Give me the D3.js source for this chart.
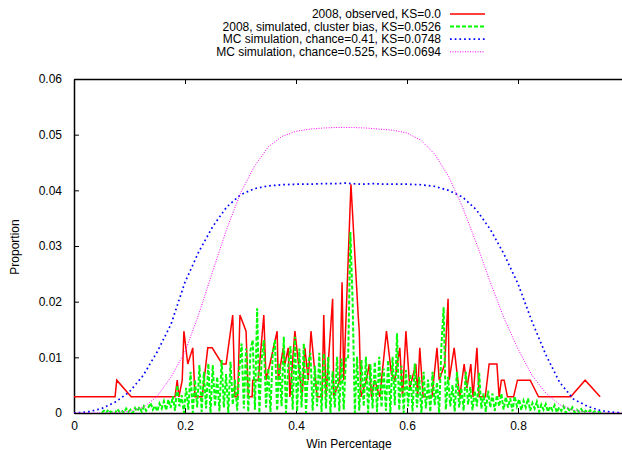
<!DOCTYPE html>
<html>
<head>
<meta charset="utf-8">
<script src="https://cdn.jsdelivr.net/npm/d3@7"></script>
<style>
  body { margin: 0; background: #fff; }
  svg { display: block; font-family: "Liberation Sans", Arial, sans-serif; }
  .tick-label { font-size: 12px; fill: #000; }
</style>
</head>
<body>
<svg id="chart" width="622" height="450"></svg>
<script>
// tick values
var xTicks = [0, 0.2, 0.4, 0.6, 0.8];
var yTicks = [0, 0.01, 0.02, 0.03, 0.04, 0.05, 0.06];

// series names
var seriesNames = [
  "2008, observed, KS=0.0",
  "2008, simulated, cluster bias, KS=0.0526",
  "MC simulation, chance=0.41, KS=0.0748",
  "MC simulation, chance=0.525, KS=0.0694"
];

// 2008 observed  [win pct, proportion]
var observed = [
  [0.000,.0029],[0.074,.0029],[0.077,.0059],[0.103,.0029],[0.182,.0029],[0.186,.0059],
  [0.189,.0029],[0.195,.0059],[0.198,.0147],[0.205,.0088],[0.214,.0117],[0.218,.0029],
  [0.231,.0029],[0.241,.0117],[0.249,.0117],[0.267,.0088],[0.274,.0088],[0.286,.0176],
  [0.290,.0029],[0.295,.0029],[0.299,.0176],[0.310,.0147],[0.314,.0029],[0.321,.0029],
  [0.322,.0059],[0.332,.0059],[0.342,.0176],[0.346,.0059],[0.353,.0088],[0.366,.0147],
  [0.368,.0059],[0.377,.0117],[0.380,.0088],[0.386,.0117],[0.389,.0029],[0.398,.0147],
  [0.411,.0029],[0.416,.0117],[0.422,.0059],[0.427,.0147],[0.438,.0029],[0.447,.0029],
  [0.450,.0176],[0.454,.0029],[0.466,.0205],[0.468,.0029],[0.479,.0059],[0.483,.0235],
  [0.486,.0059],[0.499,.0411],[0.512,.0176],[0.514,.0147],[0.517,.0029],[0.527,.0059],
  [0.532,.0088],[0.536,.0029],[0.542,.0059],[0.551,.0029],[0.563,.0147],[0.572,.0070],
  [0.578,.0059],[0.587,.0117],[0.592,.0029],[0.598,.0147],[0.605,.0045],[0.616,.0088],
  [0.619,.0029],[0.623,.0117],[0.629,.0029],[0.645,.0029],[0.654,.0117],[0.658,.0059],
  [0.668,.0088],[0.674,.0205],[0.676,.0059],[0.685,.0117],[0.695,.0029],[0.703,.0088],
  [0.708,.0045],[0.715,.0088],[0.719,.0029],[0.726,.0117],[0.730,.0029],[0.741,.0029],
  [0.748,.0088],[0.762,.0088],[0.766,.0029],[0.770,.0059],[0.775,.0059],[0.781,.0029],
  [0.792,.0029],[0.799,.0059],[0.822,.0059],[0.837,.0029],[0.895,.0029],[0.921,.0059],
  [0.948,.0029]
];

// 2008 simulated with cluster bias
var simulated = [
  [0.050,0],[0.054,.0004],[0.058,0],[0.062,.0006],[0.066,.0001],[0.070,.0003],[0.074,0],
  [0.078,.0007],[0.082,.0002],[0.086,.0005],[0.090,0],[0.094,.0008],[0.098,.0002],[0.102,.0006],
  [0.106,0],[0.110,.0009],[0.114,.0003],[0.118,.0011],[0.122,.0002],[0.126,.0012],[0.130,.0004],
  [0.134,.0010],[0.138,.0018],[0.142,.0006],[0.146,.0013],[0.150,.0003],[0.154,.0017],[0.158,.0008],
  [0.162,.0021],[0.166,.0005],[0.170,.0024],[0.174,.0009],[0.178,.0030],[0.182,.0004],[0.186,.0050],
  [0.190,.0012],[0.194,.0032],[0.198,0],[0.202,.0045],[0.206,.0006],[0.210,.0074],[0.214,0],
  [0.218,.0060],[0.222,.0010],[0.226,.0086],[0.230,.0002],[0.234,.0074],[0.238,.0008],[0.242,.0089],
  [0.246,0],[0.250,.0086],[0.254,.0012],[0.258,.0065],[0.262,.0003],[0.266,.0095],[0.270,.0010],
  [0.274,.0070],[0.278,0],[0.282,.0092],[0.286,.0015],[0.290,.0060],[0.294,.0004],[0.298,.0080],
  [0.302,.0125],[0.306,.0008],[0.310,.0116],[0.314,.0002],[0.318,.0113],[0.322,.0131],[0.326,.0006],
  [0.330,.0188],[0.334,0],[0.338,.0095],[0.342,.0131],[0.346,.0010],[0.350,.0080],[0.354,.0002],
  [0.358,.0105],[0.362,.0131],[0.366,.0004],[0.370,.0090],[0.374,.0012],[0.378,.0137],[0.382,0],
  [0.386,.0085],[0.390,.0120],[0.394,.0006],[0.398,.0137],[0.402,.0003],[0.406,.0116],[0.410,.0010],
  [0.414,.0125],[0.418,0],[0.422,.0090],[0.426,.0108],[0.430,.0004],[0.434,.0085],[0.438,.0012],
  [0.442,.0108],[0.446,.0002],[0.450,.0107],[0.454,.0008],[0.458,.0101],[0.462,0],[0.466,.0075],
  [0.470,.0010],[0.474,.0101],[0.478,.0003],[0.482,.0098],[0.486,.0006],[0.490,.0101],[0.494,.0100],
  [0.498,.0325],[0.502,.0200],[0.506,0],[0.510,.0101],[0.514,.0004],[0.518,.0095],[0.522,.0012],
  [0.526,.0101],[0.530,0],[0.534,.0088],[0.538,.0008],[0.542,.0092],[0.546,.0002],[0.550,.0101],
  [0.554,.0010],[0.558,.0080],[0.562,.0004],[0.566,.0095],[0.570,0],[0.574,.0101],[0.578,.0014],
  [0.582,.0143],[0.586,.0005],[0.590,.0085],[0.594,0],[0.598,.0077],[0.602,.0012],[0.606,.0070],
  [0.610,.0003],[0.614,.0089],[0.618,.0010],[0.622,.0065],[0.626,0],[0.630,.0074],[0.634,.0008],
  [0.638,.0060],[0.642,.0002],[0.646,.0074],[0.650,.0014],[0.654,.0055],[0.658,0],[0.662,.0120],
  [0.666,.0190],[0.670,.0006],[0.674,.0065],[0.678,.0012],[0.682,.0050],[0.686,.0003],[0.690,.0074],
  [0.694,.0010],[0.698,.0045],[0.702,.0004],[0.706,.0074],[0.710,.0015],[0.714,.0047],[0.718,.0005],
  [0.722,.0040],[0.726,.0012],[0.730,.0072],[0.734,.0008],[0.738,.0035],[0.742,.0002],[0.746,.0040],
  [0.750,.0010],[0.754,.0035],[0.758,.0004],[0.762,.0032],[0.766,.0012],[0.770,.0035],[0.774,.0006],
  [0.778,.0029],[0.782,.0010],[0.786,.0026],[0.790,.0003],[0.794,.0030],[0.798,.0012],[0.802,.0025],
  [0.806,.0005],[0.810,.0022],[0.814,.0010],[0.818,.0026],[0.822,.0004],[0.826,.0018],[0.830,.0008],
  [0.834,.0020],[0.838,.0002],[0.842,.0015],[0.846,.0006],[0.850,.0016],[0.854,.0002],[0.858,.0012],
  [0.862,.0005],[0.866,.0014],[0.870,.0001],[0.874,.0010],[0.878,.0004],[0.882,.0012],[0.886,0],
  [0.890,.0008],[0.894,.0003],[0.898,.0010],[0.902,.0001],[0.906,.0006],[0.910,.0002],[0.914,.0007],
  [0.918,0],[0.922,.0004],[0.926,.0001],[0.930,.0005],[0.934,0],[0.938,.0003],[0.942,.0001],
  [0.946,.0002],[0.950,0]
];

// MC simulation, chance=0.41
var mc41 = [
  [0.000,0],[0.025,.0002],[0.050,.0008],[0.075,.0020],[0.100,.0038],[0.125,.0068],[0.150,.0110],
  [0.175,.0160],[0.200,.0235],[0.225,.0290],[0.250,.0335],[0.275,.0370],[0.300,.0392],[0.325,.0403],
  [0.350,.0408],[0.375,.0410],[0.400,.0411],[0.425,.0411],[0.450,.0412],[0.475,.0412],[0.490,.0413],
  [0.500,.0412],[0.520,.0411],[0.540,.0412],[0.560,.0411],[0.580,.0411],[0.600,.0411],[0.625,.0410],
  [0.650,.0407],[0.675,.0400],[0.700,.0388],[0.725,.0365],[0.750,.0330],[0.775,.0285],[0.800,.0232],
  [0.825,.0165],[0.850,.0105],[0.875,.0055],[0.900,.0025],[0.925,.0012],[0.950,.0004],[0.975,.0001],
  [1.000,0]
];

// MC simulation, chance=0.525
var mc525 = [
  [0.000,0],[0.050,0],[0.075,.0001],[0.100,.0003],[0.125,.0010],[0.150,.0030],[0.175,.0065],
  [0.200,.0110],[0.225,.0178],[0.250,.0255],[0.275,.0330],[0.300,.0395],[0.325,.0443],[0.350,.0478],
  [0.375,.0497],[0.400,.0506],[0.425,.0510],[0.450,.0512],[0.475,.0513],[0.500,.0513],[0.525,.0512],
  [0.550,.0510],[0.575,.0508],[0.600,.0503],[0.625,.0490],[0.650,.0465],[0.675,.0425],[0.700,.0370],
  [0.725,.0305],[0.750,.0235],[0.775,.0170],[0.800,.0115],[0.825,.0068],[0.850,.0036],[0.875,.0015],
  [0.900,.0005],[0.925,.0001],[0.950,0],[1.000,0]
];

var svg = d3.select("#chart");
var mLeft = 74, mRight = 629, mTop = 79, mBottom = 413;

var x = d3.scaleLinear().domain([0, 1]).range([mLeft, mRight]);
var y = d3.scaleLinear().domain([0, 0.06]).range([mBottom, mTop]);

svg.append("clipPath").attr("id", "plotclip")
  .append("rect").attr("x", mLeft).attr("y", mTop - 1)
  .attr("width", mRight - mLeft).attr("height", mBottom - mTop + 1);

// axes with inward ticks, gnuplot style
var fmt = function(d){ return d === 0 ? "0" : String(+d.toFixed(2)); };
var gx = svg.append("g").attr("transform", "translate(0," + mBottom + ")")
  .call(d3.axisBottom(x).tickValues(xTicks).tickSizeInner(-5).tickSizeOuter(0).tickPadding(8).tickFormat(fmt));
var gxTop = svg.append("g").attr("transform", "translate(0," + mTop + ")")
  .call(d3.axisTop(x).tickValues(xTicks).tickSizeInner(-5).tickSizeOuter(0).tickFormat(""));
var gy = svg.append("g").attr("transform", "translate(" + mLeft + ",0)")
  .call(d3.axisLeft(y).tickValues(yTicks).tickSizeInner(-5).tickSizeOuter(0).tickPadding(12).tickFormat(fmt));
var gyRight = svg.append("g").attr("transform", "translate(" + mRight + ",0)")
  .call(d3.axisRight(y).tickValues(yTicks).tickSizeInner(-5).tickSizeOuter(0).tickFormat(""));

[gx, gxTop, gy, gyRight].forEach(function(g){
  g.select(".domain").attr("stroke", "#000").attr("stroke-width", 1.5);
  g.selectAll(".tick line").attr("stroke", "#000").attr("stroke-width", 1);
  g.selectAll(".tick text").attr("class", "tick-label").attr("font-size", null).attr("font-family", null);
});

// axis titles
svg.append("text").attr("x", 349).attr("y", 448)
  .attr("text-anchor", "middle").attr("font-size", 12).text("Win Percentage");
svg.append("text").attr("transform", "translate(19,247) rotate(-90)")
  .attr("text-anchor", "middle").attr("font-size", 12).text("Proportion");

var line = d3.line().x(function(d){ return x(d[0]); }).y(function(d){ return y(d[1]); });

var styles = [
  { data: observed,  color: "#ff0000", width: 1.5, dash: null },
  { data: simulated, color: "#00ff00", width: 2,   dash: "4,2" },
  { data: mc41,      color: "#0000ff", width: 1.7, dash: "1.7,3" },
  { data: mc525,     color: "#ff00ff", width: 1,   dash: "1,1.5" }
];

// same order as the plot command: later series on top
var plot = svg.append("g").attr("clip-path", "url(#plotclip)");
styles.forEach(function(s){
  plot.append("path").datum(s.data)
    .attr("fill", "none")
    .attr("stroke", s.color)
    .attr("stroke-width", s.width)
    .attr("stroke-dasharray", s.dash)
    .attr("stroke-linejoin", "miter")
    .attr("d", line);
});

// legend (top, right-aligned text with line samples)
var legend = svg.append("g");
seriesNames.forEach(function(name, i){
  var ly = 14 + i * 12.6;
  legend.append("text").attr("x", 441).attr("y", ly + 4)
    .attr("text-anchor", "end").attr("font-size", 12).text(name);
  legend.append("line")
    .attr("x1", 450).attr("x2", 485).attr("y1", ly).attr("y2", ly)
    .attr("stroke", styles[i].color)
    .attr("stroke-width", styles[i].width)
    .attr("stroke-dasharray", styles[i].dash);
});
</script>
</body>
</html>
